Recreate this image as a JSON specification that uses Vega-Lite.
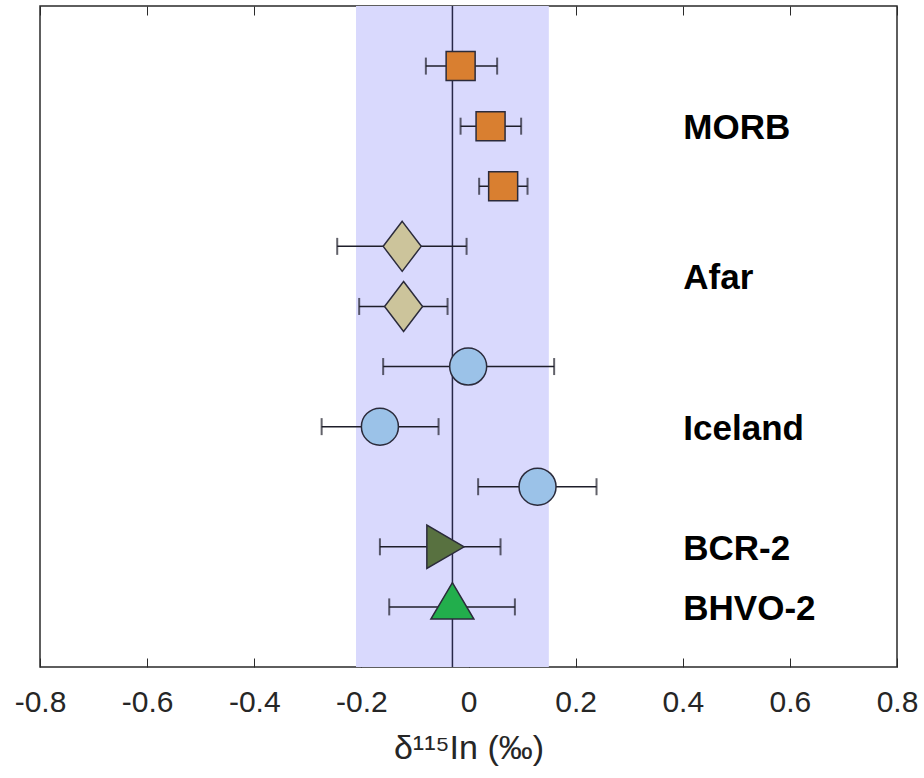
{
  "$schema": "https://vega.github.io/schema/vega-lite/v6.json",
  "autosize": {"type": "none"},
  "width": 857,
  "height": 661,
  "padding": {"left": 40, "top": 6, "right": 27, "bottom": 111},
  "background": "white",
  "config": {
    "view": {"stroke": "#2a2a2a", "strokeWidth": 1.5},
    "font": "Liberation Sans"
  },
  "datasets": {
    "pts": [
      {"g": "MORB", "pos": 10, "v": -0.0147, "lo": -0.0796, "hi": 0.0535},
      {"g": "MORB", "pos": 9, "v": 0.0412, "lo": -0.0148, "hi": 0.0983},
      {"g": "MORB", "pos": 8, "v": 0.0647, "lo": 0.0199, "hi": 0.1102},
      {"g": "Afar", "pos": 7, "v": -0.1238, "lo": -0.2451, "hi": -0.0036},
      {"g": "Afar", "pos": 6, "v": -0.1212, "lo": -0.2041, "hi": -0.0391},
      {"g": "Iceland", "pos": 5, "v": -0.0006, "lo": -0.1593, "hi": 0.1599},
      {"g": "Iceland", "pos": 4, "v": -0.1654, "lo": -0.2742, "hi": -0.0559},
      {"g": "Iceland", "pos": 3, "v": 0.1289, "lo": 0.018, "hi": 0.239},
      {"g": "BCR-2", "pos": 2, "v": -0.0546, "lo": -0.1654, "hi": 0.0598},
      {"g": "BHVO-2", "pos": 1, "v": -0.0301, "lo": -0.148, "hi": 0.0866}
    ],
    "labels": [
      {"label": "MORB", "pos": 9},
      {"label": "Afar", "pos": 6.5},
      {"label": "Iceland", "pos": 4},
      {"label": "BCR-2", "pos": 2},
      {"label": "BHVO-2", "pos": 1}
    ]
  },
  "resolve": {"axis": {"x": "independent"}},
  "layer": [
    {
      "data": {"values": [{}]},
      "mark": {"type": "rect", "color": "#D9D9FD"},
      "encoding": {
        "x": {
          "datum": -0.21,
          "type": "quantitative",
          "scale": {"domain": [-0.8, 0.8], "nice": false, "zero": false},
          "axis": {
            "orient": "bottom",
            "values": [-0.8, -0.6, -0.4, -0.2, 0, 0.2, 0.4, 0.6, 0.8],
            "labelExpr": "toString(datum.value)",
            "labelFlush": false,
            "labelOverlap": false,
            "grid": false,
            "domain": false,
            "ticks": true,
            "tickSize": -9,
            "tickColor": "#2a2a2a",
            "tickWidth": 1,
            "labelFont": "Liberation Sans",
            "labelFontSize": 30,
            "labelColor": "#262626",
            "labelPadding": 29,
            "title": "δ¹¹⁵In (‰)",
            "titleFont": "Liberation Sans",
            "titleFontSize": 34,
            "titleFontWeight": "normal",
            "titleColor": "#262626",
            "titlePadding": 14
          }
        },
        "x2": {"datum": 0.15}
      }
    },
    {
      "data": {"values": [{}]},
      "mark": {"type": "rule", "color": "#272748", "strokeWidth": 1.5},
      "encoding": {
        "x": {
          "datum": -0.03,
          "type": "quantitative",
          "axis": {
            "orient": "top",
            "values": [-0.8, -0.6, -0.4, -0.2, 0, 0.2, 0.4, 0.6, 0.8],
            "labels": false,
            "title": null,
            "grid": false,
            "domain": false,
            "tickSize": -9,
            "tickColor": "#2a2a2a",
            "tickWidth": 1
          }
        }
      }
    },
    {
      "data": {"name": "pts"},
      "mark": {"type": "rule", "color": "#1e1e2a", "strokeWidth": 1.5},
      "encoding": {
        "x": {"field": "lo", "type": "quantitative", "axis": null},
        "x2": {"field": "hi"},
        "y": {"field": "pos", "type": "quantitative", "scale": {"domain": [0, 11], "nice": false, "zero": false}, "axis": null}
      }
    },
    {
      "data": {"name": "pts"},
      "mark": {"type": "tick", "orient": "vertical", "color": "#1e1e2a", "thickness": 2, "size": 17},
      "encoding": {
        "x": {"field": "lo", "type": "quantitative", "axis": null},
        "y": {"field": "pos", "type": "quantitative", "axis": null}
      }
    },
    {
      "data": {"name": "pts"},
      "mark": {"type": "tick", "orient": "vertical", "color": "#1e1e2a", "thickness": 2, "size": 17},
      "encoding": {
        "x": {"field": "hi", "type": "quantitative", "axis": null},
        "y": {"field": "pos", "type": "quantitative", "axis": null}
      }
    },
    {
      "data": {"name": "pts"},
      "mark": {"type": "point", "filled": true, "opacity": 1, "size": 400, "stroke": "#2b2b3b", "strokeWidth": 1.5},
      "encoding": {
        "x": {"field": "v", "type": "quantitative", "axis": null},
        "y": {"field": "pos", "type": "quantitative", "axis": null},
        "shape": {
          "field": "g",
          "type": "nominal",
          "legend": null,
          "scale": {
            "domain": ["MORB", "Afar", "Iceland", "BCR-2", "BHVO-2"],
            "range": [
              "M-1.45,-1.45L1.45,-1.45L1.45,1.45L-1.45,1.45Z",
              "M0,-2.5L1.9,0L0,2.5L-1.9,0Z",
              "M1.85,0A1.85,1.85,0,1,1,-1.85,0A1.85,1.85,0,1,1,1.85,0Z",
              "M2.49,0L-1.24,-2.17L-1.24,2.17Z",
              "M0,-2.43L2.15,1.21L-2.15,1.21Z"
            ]
          }
        },
        "fill": {
          "field": "g",
          "type": "nominal",
          "legend": null,
          "scale": {
            "domain": ["MORB", "Afar", "Iceland", "BCR-2", "BHVO-2"],
            "range": ["#D97F30", "#CCC49B", "#9BC2E8", "#587140", "#22AE4C"]
          }
        }
      }
    },
    {
      "data": {"name": "labels"},
      "mark": {"type": "text", "font": "Liberation Sans", "fontWeight": "bold", "fontSize": 35, "align": "left", "baseline": "middle", "dy": 2, "color": "#000000"},
      "encoding": {
        "x": {"datum": 0.401, "type": "quantitative", "axis": null},
        "y": {"field": "pos", "type": "quantitative", "axis": null},
        "text": {"field": "label"}
      }
    }
  ]
}
